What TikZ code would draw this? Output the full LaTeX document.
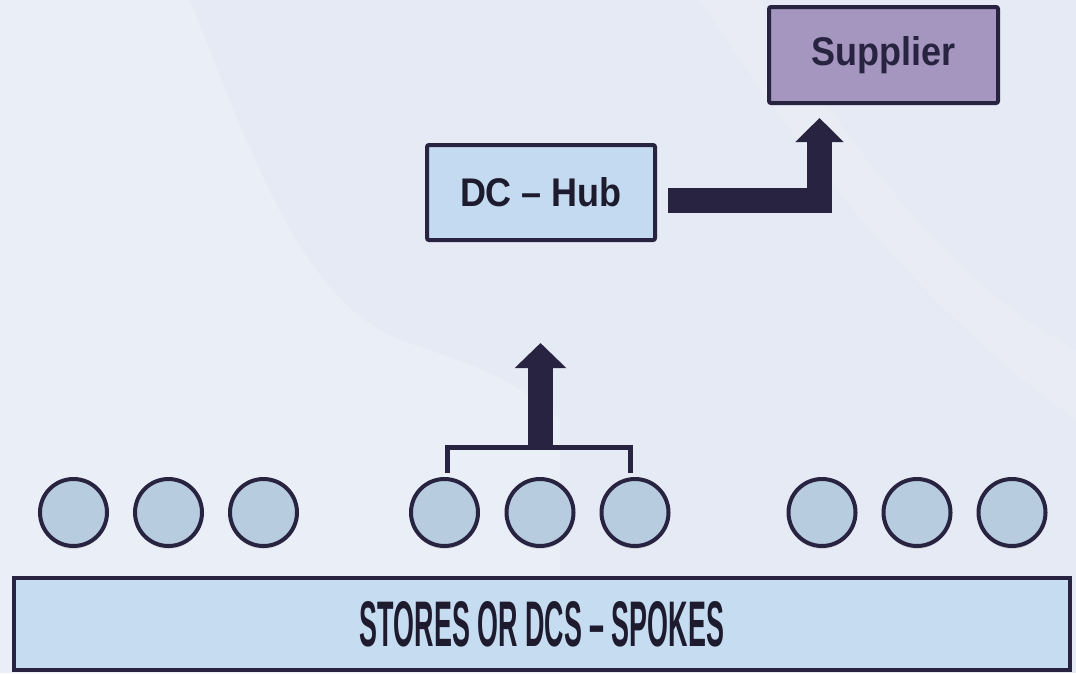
\documentclass[tikz,border=0pt]{standalone}
\usepackage{fontspec}
\setmainfont{Liberation Sans}
\newfontfamily\narrowbold[FakeStretch=0.9,Ligatures=TeX]{Liberation Sans Bold}
\usetikzlibrary{arrows.meta,calc,shadows,positioning}
\definecolor{bgcol}{HTML}{E6EAF4}
\definecolor{bglight}{HTML}{EAEEF7}
\definecolor{ink}{HTML}{272340}
\definecolor{textdark}{HTML}{1E1B2E}
\definecolor{hubfill}{HTML}{C4DAF0}
\definecolor{supfill}{HTML}{A496BE}
\definecolor{spokefill}{HTML}{B8CCE0}
\definecolor{barfill}{HTML}{C6DCF1}
\tikzset{
  box/.style={draw=ink, line width=4pt, rounded corners=2pt, inner sep=0pt,
              font=\narrowbold\fontsize{40}{44}\selectfont},
  spoke/.style={circle, draw=ink, line width=4pt, fill=spokefill, minimum size=67pt,
                inner sep=0pt, drop shadow={opacity=0.18, shadow xshift=0pt, shadow yshift=-3pt}},
  bigarrow/.style={draw=ink, line width=25pt, line join=miter,
                   -{Triangle[width=50pt,length=25pt]}},
  bracket/.style={draw=ink, line width=5pt, line join=miter}
}
\begin{document}
\begin{tikzpicture}[x=1pt,y=-1pt]
  % page and soft background shading
  \useasboundingbox (0,0) rectangle (1076,673);
  \fill[bgcol] (0,0) rectangle (1076,673);
  \fill[bglight] (0,0) -- (190,0) .. controls (250,150) and (300,300) .. (400,340)
        .. controls (460,360) and (520,380) .. (560,420) -- (560,673) -- (0,673) -- cycle;
  \fill[white, opacity=0.12] (700,0) -- (760,0) .. controls (880,200) and (980,300) .. (1076,350)
        -- (1076,420) .. controls (950,330) and (830,200) .. (700,0) -- cycle;

  % boxes
  \node[box, fill=supfill, text=ink, minimum width=229pt, minimum height=96pt]
        (sup) at (883.5,55) {Supplier};
  \node[box, fill=hubfill, text=textdark, minimum width=228pt, minimum height=95pt]
        (hub) at (541,192.5) {DC -- Hub};
  \node[draw=ink, line width=4pt, fill=barfill, minimum width=1056pt, minimum height=92pt,
        inner sep=0pt, text=textdark] (bar) at (542,624)
        {\resizebox{364pt}{45pt}{\bfseries STORES OR DCS -- SPOKES}};

  % spokes
  \foreach \i/\x in {1/73.5,2/168.5,3/263.5,4/444.5,5/540,6/635,7/822,8/917,9/1012}
    \node[spoke] (c\i) at (\x,512.5) {};

  % bracket joining the middle group
  \coordinate (bl) at ($(c4.north)+(2.5,-4)$);
  \coordinate (br) at ($(c6.north)+(-5,-4)$);
  \draw[bracket] (bl) -- ++(0,-26) -| (br);
  \coordinate (bmid) at ($(c5.north)+(0.5,-28)$);

  % arrow from the spokes up to the hub
  \coordinate (hubtip) at ($(hub.south)+(-0.5,101)$);
  \draw[bigarrow, line cap=butt] (bmid) -- (hubtip);

  % elbow arrow from the hub to the supplier
  \coordinate (hubout) at ($(hub.east)+(11,8)$);
  \coordinate (suptip) at ($(sup.south west)+(52.5,13)$);
  \draw[bigarrow, -{Triangle[width=47pt,length=24pt]}] (hubout) -| (suptip);
\end{tikzpicture}
\end{document}
